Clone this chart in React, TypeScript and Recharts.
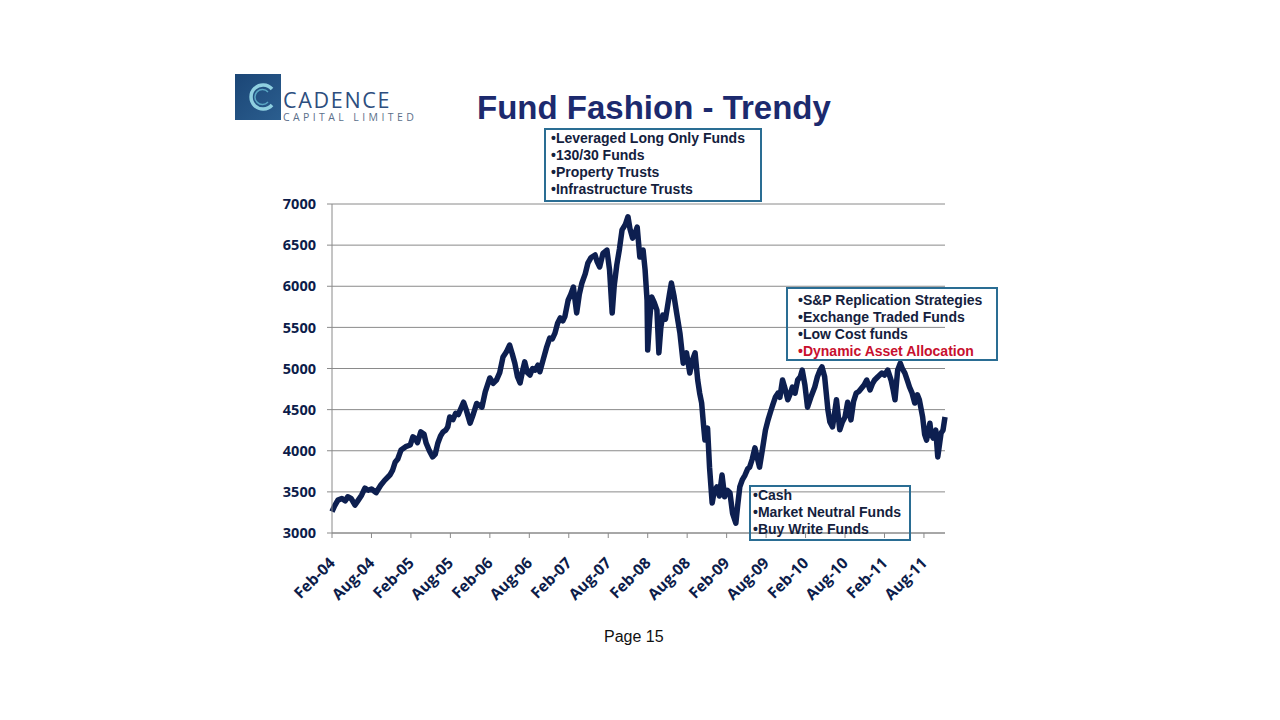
import React from 'react';
import { LineChart, Line, XAxis, YAxis, CartesianGrid } from 'recharts';

// months since Feb-04 (fractional)
const monthIndex = [
  0, 0.4, 0.9, 1.5, 2.0, 2.4, 2.9, 3.5, 4.0, 4.5,
  5.0, 5.5, 6.0, 6.7, 7.4, 8.0, 8.8, 9.2, 9.6, 10.0,
  10.5, 11.2, 11.9, 12.3, 12.6, 13.0, 13.5, 14.0, 14.3, 14.8,
  15.3, 15.7, 16.1, 16.5, 16.9, 17.3, 17.6, 17.9, 18.4, 18.8,
  19.2, 20.0, 20.4, 21.0, 21.5, 22.0, 22.8, 23.3, 24.0, 24.5,
  25.0, 25.5, 26.0, 26.5, 27.0, 27.4, 27.8, 28.2, 28.6, 29.0,
  29.3, 29.7, 30.1, 30.5, 30.9, 31.3, 31.6, 32.1, 32.6, 33.1,
  33.5, 33.9, 34.3, 34.7, 35.1, 35.4, 35.9, 36.3, 36.7, 37.0,
  37.2, 37.6, 38.0, 38.5, 38.9, 39.4, 40.0, 40.3, 40.7, 41.2,
  41.8, 42.2, 42.6, 42.9, 43.3, 43.7, 44.1, 44.6, 45.0, 45.3,
  45.7, 46.1, 46.4, 46.8, 47.3, 47.6, 47.9, 48.0, 48.3, 48.6,
  49.0, 49.4, 49.7, 50.0, 50.3, 50.7, 51.0, 51.3, 51.6, 52.0,
  52.4, 52.9, 53.4, 53.9, 54.4, 54.8, 55.2, 55.6, 55.9, 56.2,
  56.5, 56.7, 57.1, 57.4, 57.8, 58.1, 58.5, 58.9, 59.3, 59.7,
  60.1, 60.5, 60.9, 61.4, 61.7, 62.0, 62.4, 62.8, 63.2, 63.5,
  63.9, 64.3, 64.7, 65.0, 65.5, 65.9, 66.3, 66.7, 67.0, 67.4,
  67.8, 68.1, 68.5, 68.9, 69.3, 69.7, 70.0, 70.4, 70.8, 71.2,
  71.5, 71.9, 72.3, 72.8, 73.4, 73.8, 74.2, 74.5, 74.9, 75.4,
  75.7, 76.1, 76.4, 76.7, 77.2, 77.6, 78.0, 78.4, 78.9, 79.3,
  79.7, 80.1, 80.5, 80.9, 81.3, 81.8, 82.2, 82.5, 83.0, 83.6,
  84.0, 84.5, 85.0, 85.3, 85.6, 86.0, 86.4, 86.7, 87.1, 87.5,
  87.8, 88.2, 88.6, 89.0, 89.3, 89.8, 90.1, 90.4, 90.9, 91.1,
  91.4, 91.8, 92.1, 92.6, 92.9, 93.2,
];

const indexLevel = [
  3260, 3330, 3400, 3420, 3390, 3440, 3420, 3340, 3400, 3460,
  3545, 3520, 3535, 3490, 3580, 3640, 3705, 3760, 3860, 3900,
  4010, 4050, 4070, 4170, 4155, 4100, 4230, 4200, 4095, 4000,
  3925, 3960, 4095, 4180, 4230, 4250, 4290, 4410, 4380, 4455,
  4440, 4590, 4500, 4335, 4450, 4575, 4530, 4715, 4885, 4820,
  4860, 4950, 5140, 5200, 5285, 5180, 5065, 4900, 4825, 4980,
  5080, 4950, 4920, 5000, 4980, 5040, 4960, 5105, 5250, 5370,
  5360, 5430, 5550, 5615, 5580, 5630, 5830, 5900, 5990, 5800,
  5675, 5900, 6040, 6150, 6280, 6350, 6380, 6300, 6235, 6400,
  6440, 6200, 5675, 6000, 6260, 6450, 6685, 6750, 6845, 6700,
  6585, 6650, 6720, 6355, 6440, 6200, 5830, 5225, 5600, 5870,
  5800, 5710, 5190, 5500, 5650, 5600, 5750, 5900, 6040, 5880,
  5675, 5430, 5065, 5190, 4945, 5100, 5190, 4860, 4700, 4580,
  4300, 4130, 4275, 3800, 3365, 3500, 3560, 3450, 3705, 3440,
  3520, 3490, 3240, 3120, 3350, 3560, 3650, 3705, 3780, 3800,
  3900, 4035, 3900, 3800, 4045, 4250, 4375, 4480, 4555, 4650,
  4700, 4650, 4860, 4750, 4620, 4700, 4775, 4700, 4860, 4900,
  4980, 4800, 4530, 4650, 4775, 4900, 4980, 5020, 4900, 4495,
  4350, 4290, 4450, 4620, 4255, 4350, 4410, 4590, 4375, 4600,
  4700, 4720, 4760, 4800, 4860, 4740, 4820, 4860, 4900, 4945,
  4920, 4980, 4860, 4750, 4620, 4980, 5065, 5000, 4945, 4850,
  4775, 4700, 4580, 4680, 4620, 4410, 4200, 4130, 4335, 4200,
  4155, 4250, 3925, 4215, 4250, 4410,
];

const tickLabels = [
  'Feb-04', 'Aug-04', 'Feb-05', 'Aug-05', 'Feb-06', 'Aug-06', 'Feb-07', 'Aug-07',
  'Feb-08', 'Aug-08', 'Feb-09', 'Aug-09', 'Feb-10', 'Aug-10', 'Feb-11', 'Aug-11',
];
const levelTicks = [3000, 3500, 4000, 4500, 5000, 5500, 6000, 6500, 7000];

const trendyFunds = ['Leveraged Long Only Funds', '130/30 Funds', 'Property Trusts', 'Infrastructure Trusts'];
const cheapFunds = ['S&P Replication Strategies', 'Exchange Traded Funds', 'Low Cost funds', 'Dynamic Asset Allocation'];
const safeFunds = ['Cash', 'Market Neutral Funds', 'Buy Write Funds'];

const data = monthIndex.map((m, i) => ({ m, level: indexLevel[i] }));

const navy = '#0c1c4a';
const boxBlue = '#2a6d93';
const labelFont = '"Open Sans", sans-serif';

const DateTick = (props: any) => {
  const { x, y, payload } = props;
  const label = tickLabels[Math.round(payload.value / 6)];
  const bx = x + 4;
  const by = y + 24;
  return (
    <text
      x={bx}
      y={by}
      textAnchor="end"
      transform={`rotate(-45, ${bx}, ${by})`}
      fill={navy}
      fontSize={15.5}
      fontWeight={700}
      fontFamily={labelFont}
    >
      {label}
    </text>
  );
};

const NoteBox = ({ items, left, top, width, height, padTop, padLeft, redLast }: any) => (
  <div
    style={{
      position: 'absolute',
      left,
      top,
      width,
      height,
      boxSizing: 'border-box',
      border: `2px solid ${boxBlue}`,
      paddingTop: padTop,
      paddingLeft: padLeft,
      fontFamily: '"Liberation Sans", Arial, sans-serif',
      fontWeight: 700,
      fontSize: 14,
      lineHeight: '17px',
      color: '#14213d',
      whiteSpace: 'nowrap',
    }}
  >
    {items.map((t: string, i: number) => (
      <div key={t} style={{ color: redLast && i === items.length - 1 ? '#c8102e' : undefined }}>
        {'\u2022' + t}
      </div>
    ))}
  </div>
);

// logo square + wordmark
const Logo = () => (
  <svg width={200} height={60} style={{ position: 'absolute', left: 233, top: 72 }}>
    <defs>
      <linearGradient id="sq" x1="0" y1="0" x2="1" y2="1">
        <stop offset="0" stopColor="#1b4676" />
        <stop offset="1" stopColor="#2b5e8f" />
      </linearGradient>
    </defs>
    <rect x={2} y={2} width={46} height={46} fill="url(#sq)" />
    <path d="M 39 17 A 12 12 0 1 0 39 33" fill="none" stroke="#8fd0e0" strokeWidth={3.5} />
    <path d="M 35 20 A 7.5 7.5 0 1 0 35 30" fill="none" stroke="#5aa7c4" strokeWidth={1.5} />
    <text fontFamily={labelFont}>
      <tspan x={50} y={35.5} fontSize={21.5} letterSpacing={1.7} fill="#2d4e7e">
        CADENCE
      </tspan>
      <tspan x={50} y={48.5} fontSize={10.5} letterSpacing={3.4} fill="#5b6f8a">
        CAPITAL LIMITED
      </tspan>
    </text>
  </svg>
);

export default function App() {
  return (
    <div style={{ position: 'absolute', left: 0, top: 0, width: 1280, height: 720, background: '#fff' }}>
      <LineChart
        width={1280}
        height={720}
        data={data}
        margin={{ top: 204, right: 335, bottom: 127, left: 272 }}
      >
        <CartesianGrid vertical={false} stroke="#8a8a8a" strokeWidth={1} />
        <XAxis
          dataKey="m"
          type="number"
          domain={[0, 93.2]}
          ticks={tickLabels.map((_, i) => i * 6)}
          height={60}
          stroke="#8a8a8a"
          tickSize={5}
          tick={<DateTick />}
          interval={0}
        />
        <YAxis
          domain={[3000, 7000]}
          ticks={levelTicks}
          width={60}
          stroke="#8a8a8a"
          tickSize={5}
          tickMargin={11}
          interval={0}
          tick={{ fill: navy, fontSize: 14.5, fontWeight: 700, fontFamily: labelFont }}
        />
        <Line
          dataKey="level"
          type="linear"
          stroke="#0d1f50"
          strokeWidth={5.5}
          strokeLinejoin="round"
          dot={false}
          isAnimationActive={false}
        />
      </LineChart>

      <Logo />

      <div
        style={{
          position: 'absolute',
          left: 477,
          top: 91,
          fontFamily: '"Liberation Sans", Arial, sans-serif',
          fontWeight: 700,
          fontSize: 33,
          lineHeight: 1,
          color: '#1c2a6e',
          whiteSpace: 'nowrap',
        }}
      >
        Fund Fashion - Trendy
      </div>

      <NoteBox items={trendyFunds} left={544} top={128} width={218} height={74} padTop={0} padLeft={5} />
      <NoteBox items={cheapFunds} left={786} top={287} width={212} height={74} padTop={3} padLeft={10} redLast />
      <NoteBox items={safeFunds} left={749} top={485} width={162} height={56} padTop={0} padLeft={2} />

      <div
        style={{
          position: 'absolute',
          left: 604,
          top: 629,
          fontFamily: '"Liberation Sans", Arial, sans-serif',
          fontSize: 16,
          lineHeight: 1,
          color: '#111',
        }}
      >
        Page 15
      </div>
    </div>
  );
}
